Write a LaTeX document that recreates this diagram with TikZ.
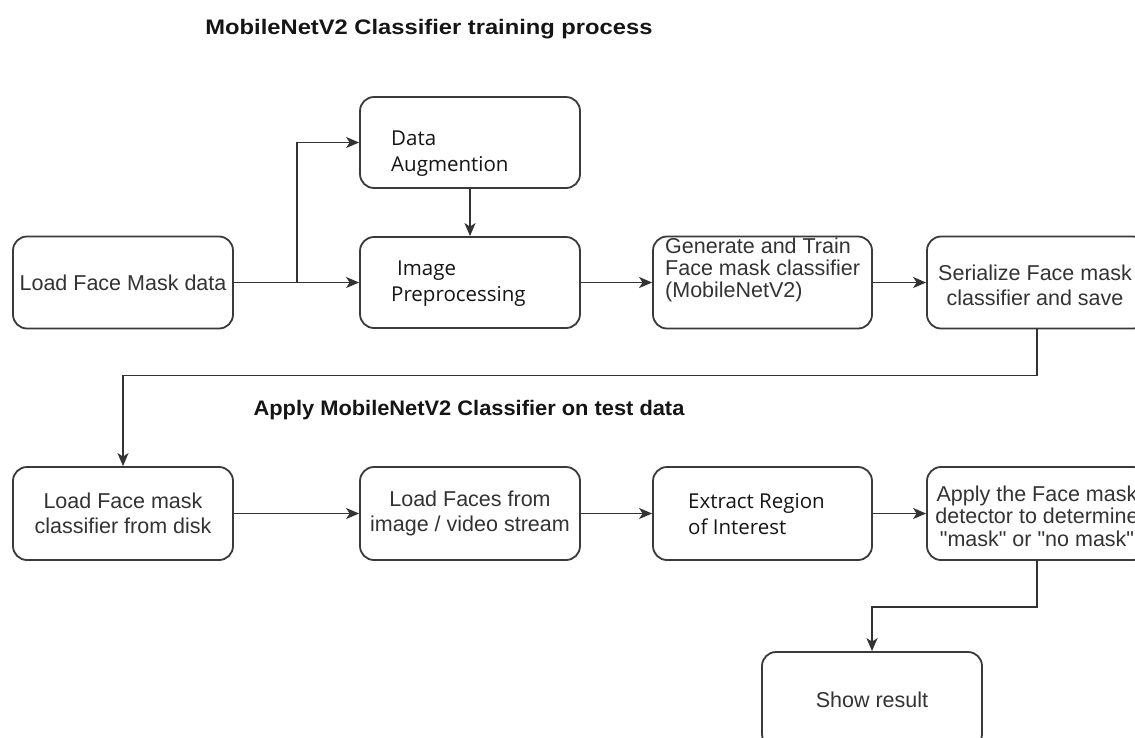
\documentclass[tikz,border=0pt]{standalone}
\usepackage{fontspec}
\setmainfont{Liberation Sans}
\newfontfamily\uifont{Open Sans}
\usetikzlibrary{arrows.meta}
\definecolor{ink}{HTML}{333333}
\definecolor{edge}{HTML}{3A3A3A}
\definecolor{dark}{HTML}{151515}
\tikzset{
  box/.style={draw=edge, line width=1.8pt, rounded corners=14pt, fill=white,
    minimum width=220pt, minimum height=92pt, inner sep=0pt, text=ink,
    align=center, font=\fontsize{21.5}{24.5}\selectfont},
  uitext/.style={text=dark, align=left, inner sep=0pt,
    font=\uifont\fontsize{20.5}{25.5}\selectfont},
  armtext/.style={text=ink, align=left, inner sep=0pt,
    font=\fontsize{21.5}{22}\selectfont},
  heading/.style={text=dark, inner sep=0pt, anchor=base,
    font=\bfseries\fontsize{21}{24}\selectfont},
  link/.style={draw=ink, line width=1.8pt, -{Stealth[length=13pt,width=11pt,inset=3.5pt]}}
}
\begin{document}
\begin{tikzpicture}[x=1pt, y=-1pt]
\clip (0,0) rectangle (1135,737);
\fill[white] (0,0) rectangle (1135,737);

% section headings
\node[heading, xscale=1.13] (t1) at (429,34) {MobileNetV2 Classifier training process};
\node[heading, xscale=1.04] (t2) at (469,415) {Apply MobileNetV2 Classifier on test data};

% training row
\node[box] (load) at (123,282.5) {Load Face Mask data};
\node[box, minimum height=91pt] (aug) at (470,142.5) {};
\node[box, minimum height=91pt] (prep) at (470,282.5) {};
\node[box, minimum width=219pt] (gen) at (762.5,282.5) {};
\node[box] (ser) at (1037,282.5) {};

\node[uitext, anchor=west] (augt) at (391,153.5) {Data\\Augmention};
\node[uitext, anchor=west] (prept) at (391,283.5) {\hspace*{6pt}Image\\Preprocessing};
\node[armtext, anchor=west] (gent) at (665,270) {Generate and Train\\Face mask classifier\\(MobileNetV2)};
\node[armtext, align=center, font=\fontsize{21.5}{25}\selectfont] (sert) at (1035,285)
  {Serialize Face mask\\classifier and save};

% test row
\node[box, minimum height=93pt] (cls) at (123,513.5) {Load Face mask\\classifier from disk};
\node[box, minimum height=93pt] (faces) at (470,513.5) {Load Faces from\\image / video stream};
\node[box, minimum height=93pt, minimum width=219pt] (roi) at (762.5,513.5) {};
\node[box, minimum height=93pt] (apply) at (1037,513.5) {};
\node[box, minimum height=96pt] (show) at (872,700) {Show result};

\node[uitext, anchor=west] (roit) at (688,514) {Extract Region\\of Interest};
\node[armtext, align=center, font=\fontsize{21.5}{22.5}\selectfont] (applyt) at (1037,516)
  {Apply the Face mask\\detector to determine\\\textquotedbl mask\textquotedbl{} or \textquotedbl no mask\textquotedbl};

% connectors
\coordinate (split) at (297,282.5);
\draw[link] (load.east) -- (prep.west);
\draw[link] (split) |- (aug.west);
\draw[link] (aug.south) -- (prep.north);
\draw[link] (prep.east) -- (gen.west);
\draw[link] (gen.east) -- (ser.west);
\draw[link] (ser.south) -- ++(0,46) -| (cls.north);
\draw[link] (cls.east) -- (faces.west);
\draw[link] (faces.east) -- (roi.west);
\draw[link] (roi.east) -- (apply.west);
\draw[link] (apply.south) -- ++(0,46) -| (show.north);
\end{tikzpicture}
\end{document}
